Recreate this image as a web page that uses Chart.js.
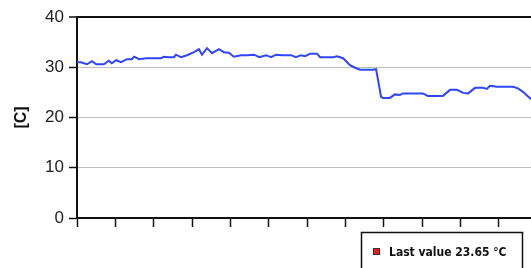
<!DOCTYPE html>
<html>
<head>
<meta charset="utf-8">
<script src="https://cdn.jsdelivr.net/npm/chart.js@4/dist/chart.umd.min.js"></script>
<style>
  html, body { margin: 0; padding: 0; background: #fff; overflow: hidden; }
  #wrap { width: 531px; height: 268px; position: relative; }
</style>
</head>
<body>
<div id="wrap"><canvas id="c" width="531" height="268"></canvas></div>
<script>
// time position along the x axis (one unit = one tick interval)
const times = [
  0, 0.10, 0.26, 0.39, 0.50, 0.70, 0.83, 0.91, 1.02, 1.15, 1.30, 1.43, 1.49,
  1.62, 1.80, 2.19, 2.27, 2.40, 2.53, 2.58, 2.71, 2.87, 3.05, 3.18, 3.26,
  3.39, 3.52, 3.70, 3.83, 3.96, 4.09, 4.28, 4.43, 4.62, 4.75, 4.93, 5.06,
  5.19, 5.35, 5.58, 5.71, 5.84, 5.95, 6.08, 6.26, 6.34, 6.68, 6.78, 6.94,
  7.12, 7.25, 7.38, 7.72, 7.80, 7.93, 7.98, 8.16, 8.29, 8.42, 8.50, 9.02,
  9.15, 9.54, 9.73, 9.91, 10.07, 10.20, 10.38, 10.59, 10.69, 10.77, 10.95,
  11.37, 11.50, 11.63, 11.84
];
// temperature [C]
const temps = [
  31.0, 31.0, 30.6, 31.2, 30.6, 30.6, 31.3, 30.8, 31.4, 31.0, 31.6, 31.6, 32.1,
  31.6, 31.8, 31.8, 32.1, 32.0, 32.0, 32.5, 32.0, 32.4, 33.0, 33.6, 32.5,
  33.8, 32.8, 33.6, 33.0, 32.9, 32.1, 32.4, 32.4, 32.5, 32.0, 32.4, 32.0,
  32.5, 32.4, 32.4, 32.0, 32.4, 32.2, 32.7, 32.7, 32.0, 32.0, 32.2, 31.8,
  30.4, 29.9, 29.5, 29.5, 29.6, 24.1, 23.9, 23.9, 24.6, 24.5, 24.8, 24.8,
  24.3, 24.3, 25.5, 25.5, 24.9, 24.8, 25.9, 25.9, 25.7, 26.3, 26.1,
  26.1, 25.8, 25.1, 23.65
];
const yTicks = [0, 10, 20, 30, 40];
const yTitle = "[C]";
const unit = "°C";
const lastValue = temps[temps.length - 1];

const points = times.map((t, i) => ({ x: t, y: temps[i] }));

// legend box with the last reading, partly cut off at the bottom
const lastValueBox = {
  id: "lastValueBox",
  afterDraw(chart) {
    const c = chart.ctx;
    c.save();
    c.strokeStyle = "#111";
    c.lineWidth = 1.5;
    c.strokeRect(361.5, 232.5, 161, 50);
    c.fillStyle = "#e02020";
    c.fillRect(374, 249, 5, 5);
    c.strokeStyle = "#333";
    c.lineWidth = 1;
    c.strokeRect(373.5, 248.5, 6, 6);
    c.fillStyle = "#111";
    c.font = "bold 12px 'Liberation Sans Narrow', 'DejaVu Sans Condensed', Arial, sans-serif";
    c.textBaseline = "alphabetic";
    c.fillText("Last value " + lastValue.toFixed(2) + " " + unit, 389, 256);
    c.restore();
  }
};

new Chart(document.getElementById("c"), {
  type: "line",
  data: {
    datasets: [{
      data: points,
      borderColor: "#2f45ff",
      borderWidth: 2,
      pointRadius: 0,
      tension: 0,
      fill: false
    }]
  },
  options: {
    responsive: false,
    animation: false,
    layout: { padding: { top: 17, right: 0, left: 0, bottom: 0 } },
    plugins: { legend: { display: false }, tooltip: { enabled: false } },
    scales: {
      x: {
        type: "linear",
        min: 0,
        max: 11.84,
        afterFit: (s) => { s.height = 50; },
        border: { color: "#111", width: 2 },
        grid: { drawOnChartArea: false, tickLength: 9, tickColor: "#111", tickWidth: 1.5 },
        ticks: { stepSize: 1, includeBounds: false, callback: () => "" }
      },
      y: {
        min: 0,
        max: 40,
        afterFit: (s) => { s.width = 77; },
        afterBuildTicks: (s) => { s.ticks = yTicks.map(v => ({ value: v })); },
        border: { color: "#111", width: 2 },
        grid: {
          color: (ctx) => ctx.tick && ctx.tick.value === 40 ? "#111" : "#bdbdbd",
          lineWidth: (ctx) => ctx.tick && ctx.tick.value === 40 ? 2 : 1,
          tickColor: "#111",
          tickLength: 8,
          tickWidth: 1.5
        },
        ticks: {
          color: "#222",
          padding: 5,
          font: { family: "'Liberation Sans', Arial, sans-serif", size: 17 }
        },
        title: {
          display: true,
          text: yTitle,
          color: "#111",
          padding: { top: 12, bottom: 0 },
          font: { family: "'Liberation Sans', Arial, sans-serif", size: 16, weight: "bold" }
        }
      }
    }
  },
  plugins: [lastValueBox]
});
</script>
</body>
</html>
